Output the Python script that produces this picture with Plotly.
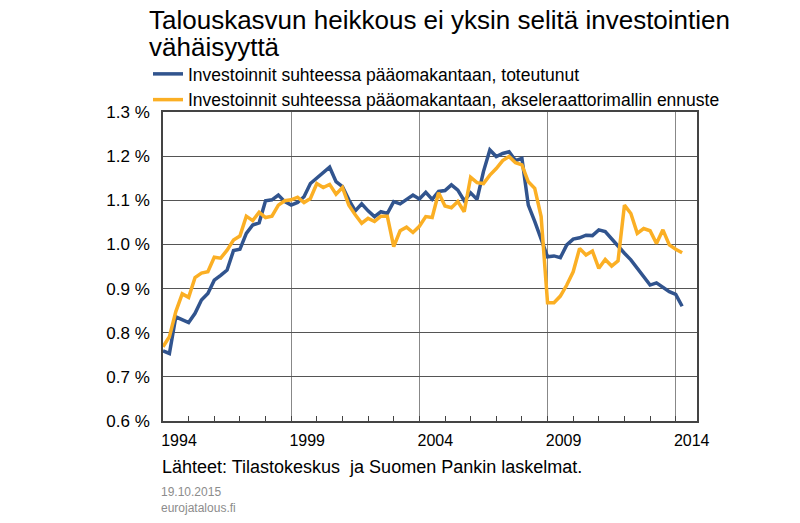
import plotly.graph_objects as go

# Quarterly data 1994Q1 .. 2014Q2 (per cent)
start_year = 1994
toteutunut = [
    0.759, 0.753, 0.836, 0.829, 0.823, 0.844, 0.874, 0.889, 0.919, 0.930,
    0.942, 0.986, 0.989, 1.025, 1.044, 1.049, 1.099, 1.101, 1.112, 1.097,
    1.089, 1.095, 1.108, 1.138, 1.150, 1.162, 1.175, 1.142, 1.131, 1.101,
    1.076, 1.092, 1.076, 1.063, 1.074, 1.070, 1.097, 1.092, 1.101, 1.112,
    1.103, 1.118, 1.102, 1.120, 1.122, 1.135, 1.123, 1.099, 1.117, 1.102,
    1.165, 1.214, 1.199, 1.206, 1.210, 1.190, 1.195, 1.089, 1.052, 1.014,
    0.972, 0.974, 0.970, 0.999, 1.012, 1.015, 1.021, 1.020, 1.033, 1.029,
    1.012, 0.996, 0.980, 0.965, 0.946, 0.928, 0.908, 0.913, 0.902, 0.893,
    0.887, 0.860,
]
ennuste = [
    0.768, 0.791, 0.848, 0.888, 0.880, 0.925, 0.935, 0.938, 0.971, 0.969,
    0.987, 1.010, 1.019, 1.064, 1.054, 1.073, 1.061, 1.064, 1.089, 1.099,
    1.101, 1.107, 1.095, 1.104, 1.138, 1.129, 1.136, 1.114, 1.129, 1.089,
    1.067, 1.048, 1.059, 1.052, 1.064, 1.064, 0.995, 1.031, 1.039, 1.027,
    1.041, 1.063, 1.061, 1.117, 1.087, 1.083, 1.097, 1.074, 1.152, 1.140,
    1.138, 1.157, 1.172, 1.190, 1.199, 1.185, 1.180, 1.142, 1.127, 1.063,
    0.868, 0.868, 0.883, 0.908, 0.938, 0.991, 0.976, 0.985, 0.946, 0.966,
    0.951, 0.963, 1.089, 1.070, 1.025, 1.036, 1.031, 1.002, 1.033, 0.999,
    0.989, 0.981,
]
quarters = [start_year + i / 4 for i in range(len(toteutunut))]

year_ticks = [1994, 1999, 2004, 2009, 2014]
year_labels = ["1994", "1999", "2004", "2009", "2014"]

names = [
    "Investoinnit suhteessa pääomakantaan, toteutunut",
    "Investoinnit suhteessa pääomakantaan, akseleraattorimallin ennuste",
]
title_lines = ["Talouskasvun heikkous ei yksin selitä investointien", "vähäisyyttä"]
source_text = "Lähteet: Tilastokeskus  ja Suomen Pankin laskelmat."
date_text = "19.10.2015"
site_text = "eurojatalous.fi"

FONT = "Liberation Sans, Arial, sans-serif"
BLUE = "#31548E"
ORANGE = "#FBAF24"

# plot-area geometry in pixels (for placing free text)
L, T, W, H = 163, 112, 534, 309


def px(xp):
    return (xp - L) / W


def py(yp):
    return 1 - (yp - T) / H


fig = go.Figure()
fig.add_trace(go.Scatter(x=quarters, y=toteutunut, mode="lines", name=names[0],
                         legendgroup="a", line=dict(color=BLUE, width=3.5)))
fig.add_trace(go.Scatter(x=quarters, y=ennuste, mode="lines", name=names[1],
                         legendgroup="b", line=dict(color=ORANGE, width=3.5)))

fig.update_layout(
    width=800, height=523,
    margin=dict(l=163, r=103, t=112, b=102),
    paper_bgcolor="white", plot_bgcolor="white",
    font=dict(family=FONT, size=16, color="black"),
    showlegend=True,
    legend=dict(x=px(148), xanchor="left", y=py(56), yanchor="top",
                font=dict(size=17.5, family=FONT), bgcolor="rgba(0,0,0,0)",
                itemwidth=30, tracegroupgap=0, traceorder="grouped"),
    xaxis=dict(range=[1994, 2014.83], tickmode="array", tickvals=year_ticks,
               ticktext=year_labels, ticks="inside", ticklen=5, tickcolor="#444",
               ticklabelshift=16, ticklabelstandoff=4,
               showgrid=True, gridcolor="#888", gridwidth=1,
               showline=True, linecolor="#444", linewidth=1.5, mirror=True,
               zeroline=False, tickfont=dict(size=16),
               minor=dict(tickmode="linear", tick0=1994, dtick=1, ticks="inside",
                          ticklen=5, tickcolor="#444")),
    yaxis=dict(range=[0.6, 1.3], dtick=0.1, tick0=0.6, tickformat=".1f",
               ticksuffix=" %", showgrid=True, gridcolor="#555", gridwidth=1,
               showline=True, linecolor="#444", linewidth=1.5, mirror=True,
               zeroline=False, ticks="", ticklabelstandoff=8,
               tickfont=dict(size=17)),
)

for line_text, ycen in zip(title_lines, [19.5, 47]):
    fig.add_annotation(text=line_text, xref="paper", yref="paper",
                       x=px(147), y=py(ycen), xanchor="left", yanchor="middle",
                       showarrow=False, font=dict(size=26, family=FONT, color="black"))

fig.add_annotation(text=source_text, xref="paper", yref="paper",
                   x=px(160), y=py(467), xanchor="left",
                   yanchor="middle", showarrow=False, font=dict(size=18, family=FONT))
fig.add_annotation(text=date_text, xref="paper", yref="paper",
                   x=px(159), y=py(492), xanchor="left",
                   yanchor="middle", showarrow=False,
                   font=dict(size=12, family=FONT, color="#8c8c8c"))
fig.add_annotation(text=site_text, xref="paper", yref="paper",
                   x=px(159), y=py(508), xanchor="left",
                   yanchor="middle", showarrow=False,
                   font=dict(size=12, family=FONT, color="#8c8c8c"))

fig.write_html("out.html", config={"displayModeBar": False},
               post_script="document.body.style.margin='0';")
